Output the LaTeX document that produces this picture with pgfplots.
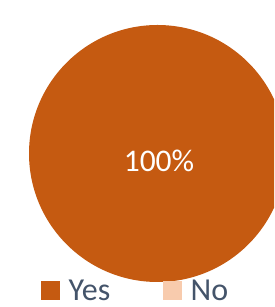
\documentclass[border=0pt]{standalone}
\usepackage{pgfplots}
\pgfplotsset{compat=1.18}
\usepackage{pgfplotstable}
\usepackage{fontspec}
\setmainfont{Carlito}
\definecolor{yescol}{HTML}{C55A11}
\definecolor{nocol}{HTML}{F8CBAD}
\definecolor{legtext}{HTML}{44546A}
\pgfplotstableread{
label value
Yes 100
No 0
}\piedata
\begin{document}
\begin{tikzpicture}
\path[use as bounding box] (0,0) rectangle (274pt,307pt);
\pgfplotstablegetelem{0}{value}\of\piedata
\pgfmathsetmacro{\yesval}{\pgfplotsretval}
\pgfplotstablegetelem{1}{value}\of\piedata
\pgfmathsetmacro{\noval}{\pgfplotsretval}
\pgfmathsetmacro{\total}{\yesval+\noval}
\pgfmathsetmacro{\yesfrac}{\yesval/\total}
\pgfmathsetmacro{\nofrac}{\noval/\total}
\pgfmathsetmacro{\yesdelta}{360*\yesfrac}
\pgfmathsetmacro{\nodelta}{360*\nofrac}
\pgfmathsetmacro{\nostart}{90-\yesdelta}
\pgfmathtruncatemacro{\yespct}{round(100*\yesfrac)}
\pgfmathtruncatemacro{\hasno}{\noval>0 ? 1 : 0}
\pgfmathtruncatemacro{\yesfull}{\noval>0 ? 0 : 1}
\begin{axis}[
  at={(0,0)}, anchor=south west,
  x=1pt, y=1pt, xmin=0, xmax=274, ymin=0, ymax=307,
  scale only axis, hide axis, clip=true,
  legend columns=2,
  legend style={draw=none, fill=none, at={(axis cs:41,16.5)}, anchor=west,
    font=\fontsize{32}{38}\selectfont, text=legtext, inner sep=0pt,
    /tikz/every odd column/.append style={column sep=7pt},
    /tikz/every even column/.append style={column sep=51pt}},
  legend image code/.code={\fill[#1] (0pt,-9pt) rectangle (18pt,9pt);},
]
\ifnum\yesfull=1
  \fill[yescol] (axis cs:157.5,153.5) circle[radius=128.5pt];
\else
  \fill[yescol] (axis cs:157.5,153.5) -- ++(90:128.5pt) arc[start angle=90, delta angle=-\yesdelta, radius=128.5pt] -- cycle;
\fi
\ifnum\hasno=1
  \fill[nocol] (axis cs:157.5,153.5) -- ++(\nostart:128.5pt) arc[start angle=\nostart, delta angle=-\nodelta, radius=128.5pt] -- cycle;
\fi
\node[text=white, font=\fontsize{31.5}{36}\selectfont] at (axis cs:159,146.5) {\yespct\%};
\addlegendimage{yescol}
\addlegendentry{Yes}
\addlegendimage{nocol}
\addlegendentry{No}
\end{axis}
\end{tikzpicture}
\end{document}
